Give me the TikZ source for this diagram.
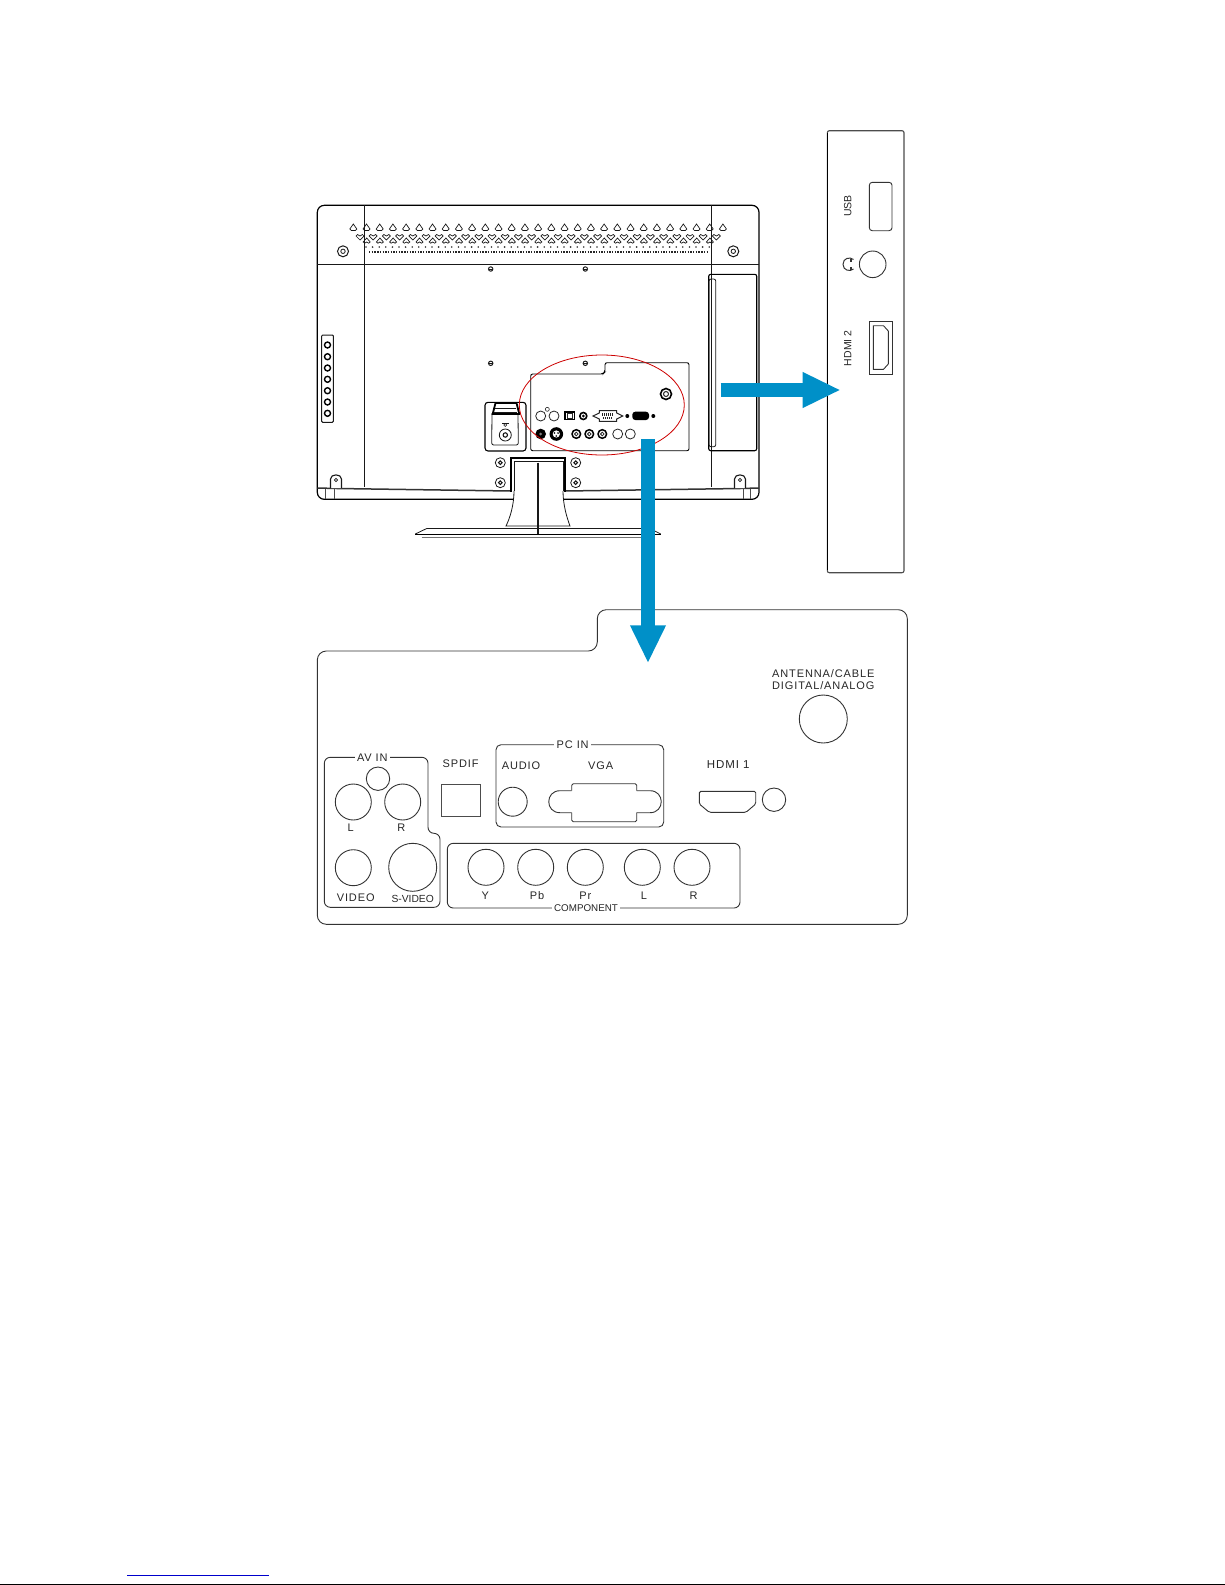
\documentclass[tikz,border=0pt]{standalone}
\usepackage{fontspec}
\setmainfont{Liberation Sans}
\newfontfamily\widefont[LetterSpace=8]{Liberation Sans}
\usetikzlibrary{arrows.meta, positioning}

\tikzset{
    tvline/.style={draw=black!90, line width=0.8pt},
    thickline/.style={draw=black, line width=1.5pt},
    panelline/.style={draw=black!80, line width=0.9pt},
    portline/.style={draw=black!85, line width=0.8pt},
    darkport/.style={draw=black, line width=1.6pt, fill=white},
    vent/.style={draw=black!90, line width=0.7pt},
    lab/.style={inner sep=0pt, text=black!85, font=\widefont\fontsize{11}{14}\selectfont},
    boxlab/.style={lab, fill=white, inner xsep=2.5pt, inner ysep=1pt},
    bluearrow/.style={draw=arrowblue, line width=14.5pt, -{Triangle[length=38pt,width=33pt]}},
}
\definecolor{arrowblue}{HTML}{0090C8}
\definecolor{linkblue}{HTML}{0000CC}

\begin{document}
\begin{tikzpicture}[x=1pt,y=-1pt]
    \useasboundingbox (0,0) rectangle (1225,1585);

    % Draw the set housing
    \draw[draw=black, line width=1.2pt, rounded corners=7pt] (317.3,205.3) rectangle (759,499.3);
    \draw[tvline] (364.3,205.3) -- (364.3,487);
    \draw[tvline] (711.3,205.3) -- (711.3,487);
    \draw[tvline] (317.3,264.3) -- (759,264.3);
    \draw[draw=black!80, line width=1.5pt] (317.3,488) -- (337,488.5) -- (510.7,491);
    \draw[draw=black!80, line width=1.5pt] (565,491) -- (740,488.5) -- (759,488);
    \foreach \xa in {325,334,743,750}
        \draw[draw=black!70, line width=0.5pt] (\xa,489) -- (\xa,499);

    % Draw the hanging tabs
    \foreach \xa in {336,740}
    {
        \draw[tvline, fill=white, line width=1.1pt] (\xa-5.5,488) -- (\xa-5.5,479) .. controls (\xa-5.5,473.5) and (\xa+5.5,473.5) .. (\xa+5.5,479) -- (\xa+5.5,488);
        \draw[tvline] (\xa,480) circle (1.6pt);
    }

    % Draw the vent rows
    \foreach \i in {0,...,28}
        \draw[vent] ({353.3+13.2*\i},224) -- ++(-3.5,5) -- ++(1.5,1.5) -- ++(4,0) -- ++(1.5,-1.5) -- cycle;
    \foreach \i in {0,...,27}
        \draw[vent] ({360+13.2*\i},240) -- ++(-4,-4) -- ++(1.5,-1.5) -- ++(2.5,1.5) -- ++(2.5,-1.5) -- ++(1.5,1.5) -- cycle;
    \foreach \i in {0,...,26}
        \draw[vent] ({366.7+13.2*\i},238) -- ++(-3.5,4) -- ++(1.5,1.2) -- ++(2,-1.2) -- ++(2,1.2) -- ++(1.5,-1.2) -- cycle;
    \foreach \i in {0,...,52}
        \fill[black!80] ({366+6.6*\i},247) circle (0.9pt);
    \draw[draw=black!85, line width=1.6pt, dash pattern=on 1.4pt off 1.3pt] (369,251.7) -- (708,251.7);

    % Draw the housing screws
    \foreach \xa in {343,733.3}
    {
        \draw[tvline, line width=1pt] (\xa,251.3) circle (5.5pt);
        \draw[tvline] (\xa,251.3) circle (2.2pt);
    }
    \foreach \xa/\ya in {490.7/269, 585.3/269, 490.7/363.3, 585.3/363.3}
    {
        \draw[tvline, line width=1pt] (\xa,\ya) circle (2.2pt);
        \draw[tvline] (\xa-2,\ya) -- (\xa+2,\ya);
    }

    % Draw the button strip
    \draw[tvline, line width=1pt, rounded corners=1pt] (321.7,335) rectangle (333.3,422.3);
    \foreach \ya in {345,356.7,368,379.3,390.7,402,413.3}
        \draw[draw=black, line width=1.4pt] (327.5,\ya) circle (3pt);

    % Draw the side cover
    \draw[draw=black, line width=1.1pt, rounded corners=2pt] (708.7,274.3) rectangle (756.7,450.7);
    \draw[tvline, rounded corners=2pt] (709,279) rectangle (715.7,446.7);

    % Draw the power block
    \draw[draw=black, line width=1.1pt, rounded corners=3pt] (485,402.3) rectangle (526,451);
    \draw[tvline, rounded corners=2pt] (492,413) -- (491.7,445) -- (518.3,445) -- (518,413);
    \draw[draw=black, line width=1.8pt] (492.7,414) -- (495.5,403) -- (516.5,403) -- (519.3,414) -- cycle;
    \draw[tvline] (495,408) -- (516,408);
    \draw[tvline] (494,412) -- (517,412);
    \draw[tvline] (505.3,435) circle (6pt);
    \draw[tvline, line width=1.1pt] (505.3,435) circle (2.2pt);
    \draw[tvline, line width=0.6pt] (505.3,425) circle (1.5pt);
    \draw[tvline, line width=0.6pt] (502,423.5) -- (508.6,423.5);

    % Draw the stand
    \draw[thickline, fill=white] (511,491.5) -- (511,458) -- (565,458) -- (565,491.5);
    \draw[tvline, fill=white] (514,491) -- (514,461) -- (563,461) -- (563,491);
    \draw[tvline, fill=white] (514,491) .. controls (514,505) and (510,518) .. (506,526) -- (570,526) .. controls (567,518) and (563,505) .. (563,491);
    \draw[tvline, line width=1.1pt] (538,462.7) -- (538,535);
    \draw[tvline] (415.3,534) -- (426.7,528.5) -- (650,528.5) -- (660.7,534);
    \draw[thickline] (415.3,534.3) -- (660.7,534.3);
    \draw[draw=black!55, line width=1.4pt] (421.7,537.5) -- (650,537.5);
    \foreach \xa/\ya in {500.3/462.7, 575.7/462.7, 500.3/482.7, 575.7/482.7}
    {
        \draw[tvline] (\xa,\ya) circle (5pt);
        \draw[tvline, line width=1.1pt] (\xa,\ya) circle (1.8pt);
    }

    % Draw the small connector plate
    \draw[draw=black, line width=0.9pt, rounded corners=2pt] (530.7,374) -- (603,374) -- (605,372) -- (605,362.7) -- (689,362.7) -- (689,450.7) -- (530.7,450.7) -- cycle;
    \draw[portline] (540.7,416) circle (5pt);
    \draw[portline] (554,416) circle (5pt);
    \draw[portline, line width=0.6pt] (547.3,409.3) circle (2pt);
    \draw[draw=black, line width=1.6pt] (564.8,411.8) rectangle (574.6,419.6);
    \draw[portline, line width=0.5pt] (567.5,413.5) rectangle (572,418);
    \draw[darkport] (583.3,416) circle (3.5pt);
    \fill (583.3,416) circle (1.5pt);
    \draw[portline, line width=1pt] (593,416) -- (599.3,413) -- (599.3,410.7) -- (616.7,410.7) -- (616.7,413) -- (622.7,416) -- (616.7,419) -- (616.7,421.3) -- (599.3,421.3) -- (599.3,419) -- cycle;
    \draw[draw=black!85, line width=2.2pt, dash pattern=on 1pt off 1pt] (602,414.5) -- (614,414.5);
    \draw[draw=black!85, line width=2.2pt, dash pattern=on 1pt off 1pt] (603,417.8) -- (613,417.8);
    \fill[black] (627.3,416) circle (2pt);
    \fill[black, rounded corners=3pt] (632.3,411.7) rectangle (649,420);
    \fill[black] (653.3,416) circle (2pt);
    \draw[darkport] (666,394) circle (5.5pt);
    \draw[portline, line width=1pt] (666,394) circle (2.5pt);
    \fill[black] (540.7,434) circle (5.3pt);
    \fill[black!50] (540.7,434) circle (1.5pt);
    \fill[black] (556.3,434) circle (6.8pt);
    \fill[white] (556.3,434) circle (3.6pt);
    \foreach \xa/\ya in {554.5/433, 558.1/433, 556.3/436}
        \fill[black] (\xa,\ya) circle (0.9pt);
    \foreach \xa in {576.3,589.3,602.3}
    {
        \draw[darkport, line width=1.5pt] (\xa,434) circle (4.3pt);
        \draw[portline] (\xa,434) circle (1.8pt);
    }
    \draw[portline] (617.7,434) circle (5pt);
    \draw[portline] (630.3,434) circle (5pt);

    % Mark the connector area
    \draw[draw=red!80!black, line width=0.8pt] (601.8,405) ellipse [x radius=82.5pt, y radius=50pt];

    % Draw the side panel
    \draw[draw=black!70, line width=1.1pt, rounded corners=2pt] (827.3,130.7) rectangle (904,572.7);
    \draw[draw=black, line width=1pt] (827.3,133) -- (827.3,570);
    \node[lab, rotate=90, font=\fontsize{10.5}{12}\selectfont] (usblab) at (847.7,206) {USB};
    \node[lab, rotate=90, font=\fontsize{10.5}{12}\selectfont] (hdmitwolab) at (847.7,348.3) {HDMI 2};
    \draw[panelline, rounded corners=3pt] (869.3,182.3) rectangle (892,230.7);
    \draw[panelline] (872.7,264.3) circle (13.3pt);
    \draw[panelline, line width=1pt] (853.5,259.5) .. controls (850,256.5) and (843,258) .. (843,264.3) .. controls (843,270.5) and (850,272) .. (853.5,269);
    \draw[panelline, line width=1.6pt] (851,258.5) -- (851,261.5);
    \draw[panelline, line width=1.6pt] (851,267) -- (851,270);
    \draw[panelline] (869.3,321.7) rectangle (892,374);
    \draw[panelline] (873.3,325.7) -- (883.5,325.7) -- (888.3,331) -- (888.3,364) -- (883.5,369.3) -- (873.3,369.3) -- cycle;

    % Draw the large connector plate
    \draw[panelline, rounded corners=9pt] (317.3,924.3) -- (317.3,651) -- (597.3,651) -- (597.3,609.7) -- (907.3,609.7) -- (907.3,924.3) -- cycle;

    % AV group
    \draw[panelline, rounded corners=6pt] (324.3,757.3) -- (428,757.3) -- (428,833.3) -- (440,833.3) -- (440,907.3) -- (324.3,907.3) -- cycle;
    \node[boxlab] (avinlab) at (372.3,757.3) {AV IN};
    \draw[panelline] (378,778.7) circle (11.7pt);
    \draw[panelline] (353.3,802) circle (18pt);
    \draw[panelline] (402.7,802) circle (18pt);
    \draw[panelline] (353.3,867.7) circle (18pt);
    \draw[panelline] (412.7,867.3) circle (24pt);
    \node[lab] (avllab) at (350.7,827.7) {L};
    \node[lab] (avrlab) at (401.3,827.7) {R};
    \node[lab] (videolab) at (355.7,897.7) {VIDEO};
    \node[lab, font=\fontsize{10.3}{12}\selectfont] (svideolab) at (412.7,899) {S-VIDEO};

    % SPDIF
    \node[lab] (spdiflab) at (460.7,764) {SPDIF};
    \draw[panelline, draw=black!70] (441.7,784.3) rectangle (480.7,816.7);

    % PC group
    \draw[panelline, rounded corners=5pt] (496,744.7) rectangle (663.7,827);
    \node[boxlab] (pcinlab) at (572.7,744.7) {PC IN};
    \node[lab] (audiolab) at (521,765.3) {AUDIO};
    \node[lab] (vgalab) at (600.7,765.3) {VGA};
    \draw[panelline] (512.7,801.7) circle (14.5pt);
    \draw[panelline, rounded corners=1.5pt] (571.7,790.7) -- (571.7,783.7) -- (636.7,783.7) -- (636.7,790.7);
    \draw[panelline, rounded corners=1.5pt] (571.7,812.7) -- (571.7,821.7) -- (636.7,821.7) -- (636.7,812.7);
    \draw[panelline] (571.7,790.7) -- (560,790.7) .. controls (545,790.7) and (545,812.7) .. (560,812.7) -- (571.7,812.7);
    \draw[panelline] (636.7,790.7) -- (650,790.7) .. controls (665,790.7) and (665,812.7) .. (650,812.7) -- (636.7,812.7);

    % Component group
    \draw[panelline, rounded corners=6pt] (447.3,843.3) rectangle (740,908);
    \node[boxlab, font=\fontsize{9.8}{12}\selectfont] (componentlab) at (586,908) {COMPONENT};
    \foreach \xa/\txt/\lx/\name in {486/Y/485.3/ylab, 535.7/Pb/537/pblab, 585.3/Pr/585.3/prlab, 642.3/L/644/comlab, 692/R/693.7/cormlab}
    {
        \draw[panelline] (\xa,867.3) circle (18pt);
        \node[lab] (\name) at (\lx,896) {\txt};
    }

    % Antenna and HDMI
    \node[lab, align=center, font=\widefont\fontsize{11}{12}\selectfont] (antennalab) at (823.3,680) {ANTENNA/CABLE\\DIGITAL/ANALOG};
    \draw[panelline] (823.3,719) circle (24pt);
    \node[lab, font=\widefont\fontsize{11.5}{14}\selectfont] (hdmionelab) at (728.3,764.3) {HDMI 1};
    \draw[panelline, rounded corners=1.5pt] (699.3,791.3) -- (755.7,791.3) -- (755.7,804) -- (746,812.3) -- (709.3,812.3) -- (699.3,804) -- cycle;
    \draw[panelline] (774,799.7) circle (11.7pt);

    % Draw the arrows
    \coordinate (tvright) at (720.7,390);
    \coordinate (sidetip) at (840.7,390);
    \coordinate (tvplate) at (648,439.3);
    \coordinate (platetip) at (648,663.3);
    \draw[bluearrow] (tvright) -- (sidetip);
    \draw[bluearrow] (tvplate) -- (platetip);

    % Footer rules
    \draw[draw=linkblue, line width=1pt] (127,1575) -- (268.7,1575);
    \draw[draw=black, line width=1pt] (0,1584.2) -- (1225,1584.2);
\end{tikzpicture}
\end{document}
